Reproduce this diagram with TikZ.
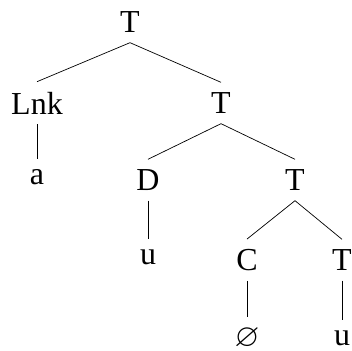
\documentclass[tikz,border=0pt]{standalone}
\usepackage{amssymb}
\usepackage{fontspec}
\setmainfont{Liberation Serif}
\newcommand{\unitsize}{1pt}

\begin{document}
\begin{tikzpicture}
\useasboundingbox (0,0) rectangle (352*\unitsize,-350*\unitsize);
\tikzstyle{every node}=[font=\fontsize{32}{38}\selectfont,
			inner xsep=1pt,
			inner ysep=10pt
			]
\tikzstyle{branch}=[line width=0.7pt]


\node (t0)  at (130*\unitsize,-22*\unitsize)  {T};
\node (lnk) at (37*\unitsize,-103*\unitsize)  {Lnk};
\node (t1)  at (221*\unitsize,-103*\unitsize) {T};
\node (a)   at (37*\unitsize,-177*\unitsize)  {a};
\node (d)   at (148*\unitsize,-180*\unitsize) {D};
\node (t2)  at (295*\unitsize,-180*\unitsize) {T};
\node (u1)  at (148*\unitsize,-257*\unitsize) {u};
\node (c)   at (247*\unitsize,-260*\unitsize) {C};
\node (t3)  at (342*\unitsize,-260*\unitsize) {T};
\node (null) at (247*\unitsize,-338*\unitsize) {$\varnothing$};
\node (u2)  at (342*\unitsize,-338*\unitsize) {u};


\draw[branch] (t0.south) -- (lnk.north);
\draw[branch] (t0.south) -- (t1.north);
\draw[branch] (lnk.south) -- (a.north);
\draw[branch] (t1.south) -- (d.north);
\draw[branch] (t1.south) -- (t2.north);
\draw[branch] (d.south) -- (u1.north);
\draw[branch] (t2.south) -- (c.north);
\draw[branch] (t2.south) -- (t3.north);
\draw[branch] (c.south) -- (null.north);
\draw[branch] (t3.south) -- (u2.north);

\end{tikzpicture}
\end{document}
